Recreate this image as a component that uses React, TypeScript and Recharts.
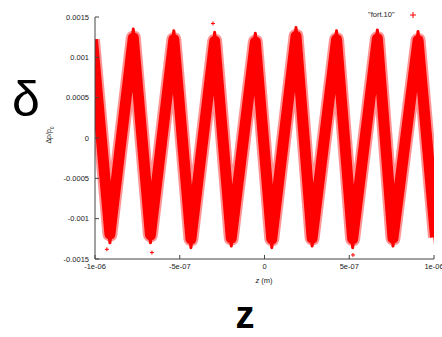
import { ComposedChart, Line, Scatter, XAxis, YAxis, Legend } from "recharts";

// Turning points of the bunched band: z in metres, delta = Δp/p0.
// First and last points sit just outside the window and get clipped.
const turnZ = [
  -1.015e-6, -9.12e-7, -7.74e-7, -6.73e-7, -5.35e-7, -4.34e-7, -2.94e-7,
  -1.96e-7, -5.4e-8, 4.3e-8, 1.86e-7, 2.81e-7, 4.25e-7, 5.2e-7, 6.66e-7,
  7.58e-7, 9.06e-7, 1.009e-6,
];
// centre of the band at each turning point
const turnDelta = [
  0.00122, -0.00119, 0.00124, -0.0012, 0.00122, -0.00125, 0.0012,
  -0.00124, 0.00119, -0.00125, 0.00126, -0.00124, 0.00122, -0.00125,
  0.00123, -0.00124, 0.00121, -0.00123,
];
// outermost particles at each turning point (the sharp tips)
const tipDelta = [
  0.0013, -0.0013, 0.00135, -0.0013, 0.00133, -0.00136, 0.00131,
  -0.00134, 0.0013, -0.00136, 0.00137, -0.00134, 0.00133, -0.00136,
  0.00134, -0.00134, 0.00132, -0.00133,
];

// a few loose particles outside the core band
const strayZ = [-3.04e-7, -6.64e-7, 5.22e-7, -9.3e-7];
const strayDelta = [0.00142, -0.00142, -0.00145, -0.00138];

const xTicks = [-1e-6, -5e-7, 0, 5e-7, 1e-6];
const xTickLabels = ["-1e-06", "-5e-07", "0", "5e-07", "1e-06"];
const yTicks = [-0.0015, -0.001, -0.0005, 0, 0.0005, 0.001, 0.0015];
const yTickLabels = ["-0.0015", "-0.001", "-0.0005", "0", "0.0005", "0.001", "0.0015"];

const rows = turnZ.map((z, i) => ({ z, delta: turnDelta[i], tip: tipDelta[i] }));
const strays = strayZ.map((z, i) => ({ z, delta: strayDelta[i] }));

const RED = "#ff0000";
const FRAME = "#444";
const FONT = "Liberation Sans, Arial, sans-serif";
const tickFont = { fontSize: 7.5, fill: "#222", fontFamily: FONT };

const Plus = (props: any) => {
  const { cx, cy } = props;
  if (cx == null || cy == null) return <g />;
  return (
    <path
      d={`M${cx - 2},${cy}H${cx + 2}M${cx},${cy - 2}V${cy + 2}`}
      stroke={RED}
      strokeWidth={1}
    />
  );
};

const Key = () => (
  <div style={{ display: "flex", alignItems: "center", fontFamily: FONT, fontSize: 7.5, color: "#222" }}>
    <span>"fort.10"</span>
    <svg width={8} height={8} style={{ marginLeft: 14 }}>
      <path d="M1,4H7M4,1V7" stroke={RED} strokeWidth={1} />
    </svg>
  </div>
);

export default function App() {
  return (
    <div style={{ position: "absolute", left: 0, top: 0, width: 442, height: 337, background: "#fff", overflow: "hidden" }}>
      <ComposedChart
        width={442}
        height={337}
        data={rows}
        margin={{ top: 8, right: 8, bottom: 58, left: 0 }}
      >
        <XAxis
          dataKey="z"
          type="number"
          domain={[-1e-6, 1e-6]}
          allowDataOverflow
          ticks={xTicks}
          interval={0}
          tickFormatter={(v: number) => xTickLabels[xTicks.indexOf(v)] ?? String(v)}
          tick={tickFont}
          tickSize={-4}
          tickMargin={9}
          height={20}
          axisLine={{ stroke: FRAME }}
          tickLine={{ stroke: FRAME }}
        />
        <XAxis
          xAxisId="top"
          orientation="top"
          type="number"
          domain={[-1e-6, 1e-6]}
          ticks={xTicks}
          interval={0}
          tick={false}
          tickSize={-4}
          height={0}
          axisLine={{ stroke: FRAME }}
          tickLine={{ stroke: FRAME }}
        />
        <YAxis
          type="number"
          domain={[-0.0015, 0.0015]}
          allowDataOverflow
          ticks={yTicks}
          interval={0}
          tickFormatter={(v: number) => yTickLabels[yTicks.indexOf(v)] ?? String(v)}
          tick={tickFont}
          tickSize={-4}
          tickMargin={10}
          width={95}
          axisLine={{ stroke: FRAME }}
          tickLine={{ stroke: FRAME }}
        />
        <YAxis
          yAxisId="right"
          orientation="right"
          type="number"
          domain={[-0.0015, 0.0015]}
          ticks={yTicks}
          interval={0}
          tick={false}
          tickSize={-4}
          width={0}
          axisLine={{ stroke: FRAME }}
          tickLine={{ stroke: FRAME }}
        />
        <Legend
          verticalAlign="top"
          content={<Key />}
          wrapperStyle={{ position: "absolute", top: 10, left: 368, width: 60 }}
        />
        {/* soft fringe of the particle cloud */}
        <Line
          type="linear"
          dataKey="delta"
          stroke="#ff2a2a"
          strokeOpacity={0.5}
          strokeWidth={15}
          strokeLinejoin="round"
          dot={false}
          isAnimationActive={false}
          legendType="none"
        />
        <Line
          type="linear"
          dataKey="delta"
          stroke={RED}
          strokeWidth={11}
          strokeLinejoin="round"
          dot={false}
          isAnimationActive={false}
          legendType="none"
        />
        <Line
          type="linear"
          dataKey="tip"
          stroke={RED}
          strokeWidth={3}
          strokeLinejoin="round"
          dot={false}
          isAnimationActive={false}
          legendType="none"
        />
        <Scatter
          data={strays}
          dataKey="delta"
          shape={<Plus />}
          isAnimationActive={false}
          legendType="none"
        />
      </ComposedChart>

      <div
        style={{
          position: "absolute",
          left: 50,
          top: 135,
          transform: "translate(-50%, -50%) rotate(-90deg)",
          fontFamily: FONT,
          fontSize: 7,
          color: "#222",
          whiteSpace: "nowrap",
        }}
      >
        Δp/p<sub style={{ fontSize: 5 }}>0</sub>
      </div>
      <div
        style={{
          position: "absolute",
          left: 264,
          top: 280,
          transform: "translate(-50%, -50%)",
          fontFamily: FONT,
          fontSize: 7.5,
          color: "#222",
          whiteSpace: "nowrap",
        }}
      >
        <i>z</i> (m)
      </div>
      <div
        style={{
          position: "absolute",
          left: 26,
          top: 99,
          transform: "translate(-50%, -50%)",
          fontFamily: FONT,
          fontSize: 50,
          lineHeight: 1.2,
          color: "#000",
        }}
      >
        δ
      </div>
      <div
        style={{
          position: "absolute",
          left: 245,
          top: 298,
          transform: "translateX(-50%)",
          fontFamily: FONT,
          fontSize: 38,
          fontWeight: 700,
          lineHeight: 0.9,
          color: "#000",
        }}
      >
        z
      </div>
    </div>
  );
}
